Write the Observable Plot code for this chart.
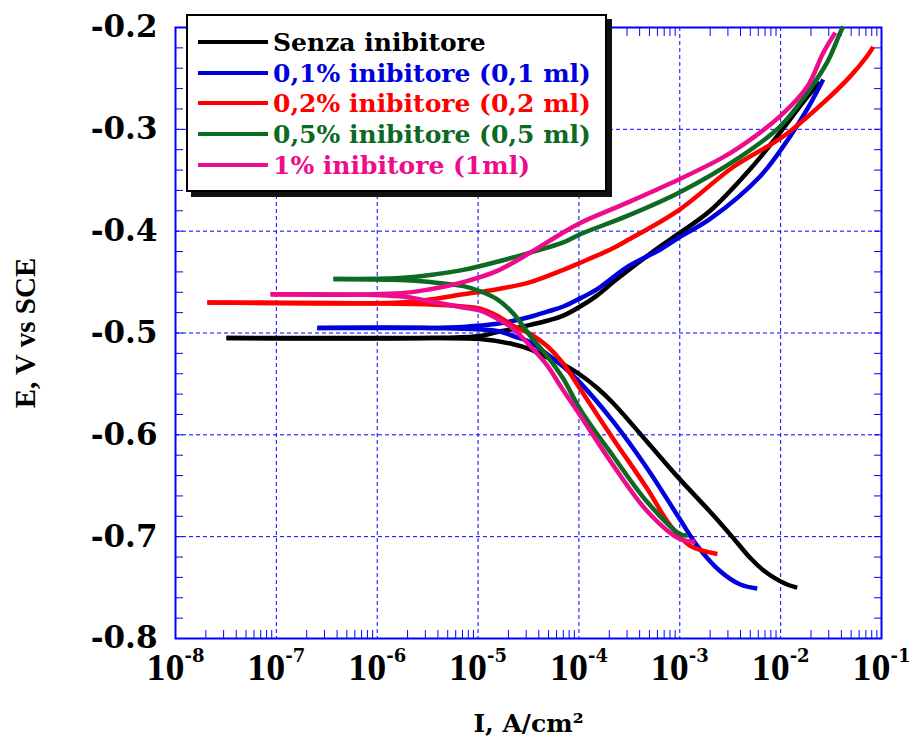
<!DOCTYPE html>
<html><head><meta charset="utf-8">
<script src="https://cdn.jsdelivr.net/npm/d3@7"></script>
<script src="https://cdn.jsdelivr.net/npm/@observablehq/plot@0.6"></script>
<style>
body{margin:0;background:#fff;}
#wrap{position:relative;width:916px;height:744px;overflow:hidden;}
#wrap svg{position:absolute;left:0;top:0;}
g[aria-label="y-axis tick label"]{font-family:"DejaVu Serif";font-weight:bold;font-size:31px;}
g[aria-label="x-axis tick label"]{font-family:"Liberation Serif";font-weight:bold;font-size:38px;}
g[aria-label="x-axis label"]{font-family:"DejaVu Serif";font-weight:bold;font-size:25px;}
g[aria-label="y-axis label"]{font-family:"Liberation Serif";font-weight:bold;font-size:29px;}
#legend{position:absolute;left:186px;top:14px;width:421px;height:178px;box-sizing:border-box;background:#fff;border:2.5px solid #000;box-shadow:5px 5px 0 #111;font-family:"DejaVu Serif";font-weight:bold;font-size:25px;}
#legend .row{position:absolute;left:10px;height:30px;display:flex;align-items:center;white-space:nowrap;}
#legend .sw{width:70px;height:4.5px;margin-right:5px;}
</style>
</head><body>
<div id="wrap"></div>
<script>
// ---- data: [I (A/cm2), E (V vs SCE)] ----
const seriesNames = ["Senza inibitore","0,1% inibitore (0,1 ml)","0,2% inibitore (0,2 ml)","0,5% inibitore (0,5 ml)","1% inibitore (1ml)"];
const seriesColors = ["#000000","#0000dd","#ff0000","#0d6a22","#ec0c8c"];

const senzaCathodic = [[1.46e-2,-0.750],[1.16e-2,-0.747],[8.83e-3,-0.741],[6.73e-3,-0.733],[5.00e-3,-0.721],[3.50e-3,-0.703],[2.15e-3,-0.679],[9.89e-4,-0.643],[4.76e-4,-0.607],[2.19e-4,-0.569],[1.52e-4,-0.554],[1.03e-4,-0.541],[7.00e-5,-0.531],[4.86e-5,-0.524],[3.30e-5,-0.516],[2.24e-5,-0.511],[1.05e-5,-0.506],[3.36e-6,-0.505],[3.20e-8,-0.505]];
const senzaAnodic = [[3.20e-8,-0.505],[3.36e-6,-0.505],[1.05e-5,-0.503],[1.55e-5,-0.499],[2.24e-5,-0.496],[3.30e-5,-0.492],[4.86e-5,-0.488],[7.00e-5,-0.483],[1.03e-4,-0.474],[1.52e-4,-0.463],[2.19e-4,-0.450],[3.02e-4,-0.439],[6.41e-4,-0.415],[9.89e-4,-0.402],[2.00e-3,-0.380],[5.00e-3,-0.339],[9.91e-3,-0.303],[1.84e-2,-0.268],[2.47e-2,-0.254]];

const inib01Cathodic = [[5.86e-3,-0.751],[3.98e-3,-0.747],[2.52e-3,-0.734],[1.49e-3,-0.709],[9.89e-4,-0.682],[4.76e-4,-0.633],[2.19e-4,-0.587],[1.03e-4,-0.549],[7.00e-5,-0.533],[4.86e-5,-0.521],[3.30e-5,-0.509],[2.24e-5,-0.503],[1.55e-5,-0.498],[3.36e-6,-0.495],[2.55e-7,-0.495]];
const inib01Anodic = [[2.55e-7,-0.495],[3.36e-6,-0.495],[7.14e-6,-0.494],[1.55e-5,-0.491],[2.24e-5,-0.488],[3.30e-5,-0.484],[4.86e-5,-0.479],[7.00e-5,-0.474],[1.03e-4,-0.466],[1.52e-4,-0.457],[3.02e-4,-0.435],[6.41e-4,-0.418],[9.89e-4,-0.406],[2.00e-3,-0.388],[6.28e-3,-0.346],[1.24e-2,-0.307],[1.84e-2,-0.280],[2.64e-2,-0.251]];

const inib02Cathodic = [[2.36e-3,-0.717],[1.27e-3,-0.709],[8.05e-4,-0.689],[4.76e-4,-0.653],[2.19e-4,-0.604],[1.03e-4,-0.555],[7.00e-5,-0.530],[4.86e-5,-0.513],[3.30e-5,-0.501],[2.24e-5,-0.493],[1.55e-5,-0.483],[1.05e-5,-0.476],[7.14e-6,-0.474],[3.36e-6,-0.472],[2.07e-8,-0.470]];
const inib02Anodic = [[2.07e-8,-0.470],[1.70e-6,-0.470],[3.36e-6,-0.467],[7.14e-6,-0.462],[1.55e-5,-0.457],[3.30e-5,-0.450],[7.00e-5,-0.438],[1.03e-4,-0.431],[2.05e-4,-0.418],[3.02e-4,-0.409],[9.89e-4,-0.379],[3.39e-3,-0.337],[1.06e-2,-0.307],[2.64e-2,-0.274],[4.90e-2,-0.248],[7.21e-2,-0.228],[8.28e-2,-0.219]];

const inib05Cathodic = [[1.19e-3,-0.699],[9.89e-4,-0.697],[4.76e-4,-0.666],[2.19e-4,-0.621],[1.03e-4,-0.575],[7.00e-5,-0.545],[4.86e-5,-0.523],[3.30e-5,-0.503],[2.24e-5,-0.481],[1.55e-5,-0.467],[1.05e-5,-0.459],[7.14e-6,-0.454],[3.36e-6,-0.450],[1.70e-6,-0.448],[3.68e-7,-0.447]];
const inib05Anodic = [[3.68e-7,-0.447],[1.70e-6,-0.446],[3.36e-6,-0.443],[7.14e-6,-0.438],[1.55e-5,-0.430],[3.30e-5,-0.421],[7.00e-5,-0.411],[1.03e-4,-0.403],[3.02e-4,-0.385],[9.89e-4,-0.362],[3.98e-3,-0.327],[9.91e-3,-0.297],[1.84e-2,-0.264],[2.90e-2,-0.234],[3.90e-2,-0.205],[4.17e-2,-0.199]];

const inib1Cathodic = [[1.43e-3,-0.705],[9.89e-4,-0.702],[4.76e-4,-0.675],[2.19e-4,-0.630],[1.03e-4,-0.581],[6.55e-5,-0.552],[4.86e-5,-0.532],[3.30e-5,-0.513],[2.24e-5,-0.496],[1.55e-5,-0.486],[1.05e-5,-0.478],[7.14e-6,-0.475],[3.36e-6,-0.469],[1.70e-6,-0.464],[8.75e-8,-0.462]];
const inib1Anodic = [[8.75e-8,-0.462],[1.70e-6,-0.461],[3.36e-6,-0.457],[7.14e-6,-0.450],[1.55e-5,-0.439],[3.30e-5,-0.421],[6.55e-5,-0.403],[1.03e-4,-0.392],[3.02e-4,-0.372],[9.89e-4,-0.349],[2.52e-3,-0.329],[3.98e-3,-0.317],[9.91e-3,-0.287],[1.84e-2,-0.258],[2.64e-2,-0.225],[3.48e-2,-0.205]];

// ---- axes ----
const xTicks = [1e-8,1e-7,1e-6,1e-5,1e-4,1e-3,1e-2,1e-1];
const xTickExponents = ["-8","-7","-6","-5","-4","-3","-2","-1"];
const xGrid = [1e-7,1e-6,1e-5,1e-4,1e-3,1e-2];
const xMinorMultipliers = [2,3,4,5,6,7,8,9];
const yTicks = [-0.8,-0.7,-0.6,-0.5,-0.4,-0.3,-0.2];
const yTickLabels = ["-0.8","-0.7","-0.6","-0.5","-0.4","-0.3","-0.2"];
const yGrid = [-0.7,-0.6,-0.5,-0.4,-0.3];
const yMinor = [-0.8,-0.78,-0.76,-0.74,-0.72,-0.7,-0.68,-0.66,-0.64,-0.62,-0.6,-0.58,-0.56,-0.54,-0.52,-0.5,-0.48,-0.46,-0.44,-0.42,-0.4,-0.38,-0.36,-0.34,-0.32,-0.3,-0.28,-0.26,-0.24,-0.22,-0.2];

const branches = [
  [0,"c",senzaCathodic],[0,"a",senzaAnodic],
  [1,"c",inib01Cathodic],[1,"a",inib01Anodic],
  [2,"c",inib02Cathodic],[2,"a",inib02Anodic],
  [3,"c",inib05Cathodic],[3,"a",inib05Anodic],
  [4,"c",inib1Cathodic],[4,"a",inib1Anodic]
];
const rows = branches.flatMap(([s,b,arr]) => arr.map(([I,E]) => ({series: seriesNames[s], key: s + b, I, E})));
const xMinor = xTicks.slice(0,-1).flatMap(d => xMinorMultipliers.map(m => m*d));

const blue = "#0000ff";
const chart = Plot.plot({
  width: 916, height: 744,
  marginLeft: 175, marginRight: 35, marginTop: 27, marginBottom: 106,
  style: {background: "#fff", color: "#000", overflow: "visible"},
  x: {type: "log", domain: [1e-8, 1e-1]},
  y: {domain: [-0.8, -0.2]},
  color: {domain: seriesNames, range: seriesColors},
  marks: [
    Plot.gridX(xGrid, {stroke: blue, strokeOpacity: 1, strokeWidth: 1, strokeDasharray: "4,3"}),
    Plot.gridY(yGrid, {stroke: blue, strokeOpacity: 1, strokeWidth: 1, strokeDasharray: "4,3"}),
    Plot.axisX(xMinor, {anchor: "bottom", tickSize: -8, tickFormat: () => "", label: null, stroke: blue, strokeWidth: 1}),
    Plot.axisX(xMinor, {anchor: "top", tickSize: -8, tickFormat: () => "", label: null, stroke: blue, strokeWidth: 1}),
    Plot.axisY(yMinor, {anchor: "left", tickSize: -8, tickFormat: () => "", label: null, stroke: blue, strokeWidth: 1}),
    Plot.axisY(yMinor, {anchor: "right", tickSize: -8, tickFormat: () => "", label: null, stroke: blue, strokeWidth: 1}),
    Plot.axisX(xTicks, {anchor: "bottom", tickSize: 0, tickPadding: 15,
      tickFormat: d => "10^" + xTickExponents[xTicks.indexOf(d)],
      label: "I, A/cm²", labelAnchor: "center", labelOffset: 93, labelArrow: false}),
    Plot.axisY(yTicks, {anchor: "left", tickSize: 0, tickPadding: 18,
      tickFormat: d => yTickLabels[yTicks.indexOf(d)],
      label: "E, V vs SCE", labelAnchor: "center", labelOffset: 161, labelArrow: false}),
    Plot.frame({stroke: blue, strokeWidth: 2}),
    Plot.line(rows, {x: "I", y: "E", z: "key", stroke: "series", strokeWidth: 4.5, curve: "catmull-rom", strokeLinecap: "butt"})
  ]
});

const wrap = document.getElementById("wrap");
wrap.appendChild(chart);

// superscript exponents for x tick labels
d3.select(chart).selectAll('g[aria-label="x-axis tick label"] text').each(function() {
  const t = this.textContent;
  if (!t.includes("^")) return;
  const [base, exp] = t.split("^");
  const sel = d3.select(this);
  sel.text(null);
  sel.append("tspan").text(base);
  sel.append("tspan").attr("dy", -18).style("font-family", "DejaVu Serif").style("font-size", "18px").text(exp);
});

// legend
const legend = document.createElement("div");
legend.id = "legend";
const rowTops = [11, 42, 72, 103, 134];
seriesNames.forEach((name, i) => {
  const r = document.createElement("div");
  r.className = "row";
  r.style.top = rowTops[i] + "px";
  const sw = document.createElement("div");
  sw.className = "sw";
  sw.style.background = seriesColors[i];
  const tx = document.createElement("span");
  tx.textContent = name;
  tx.style.color = seriesColors[i];
  r.appendChild(sw); r.appendChild(tx);
  legend.appendChild(r);
});
wrap.appendChild(legend);
</script>
</body></html>
